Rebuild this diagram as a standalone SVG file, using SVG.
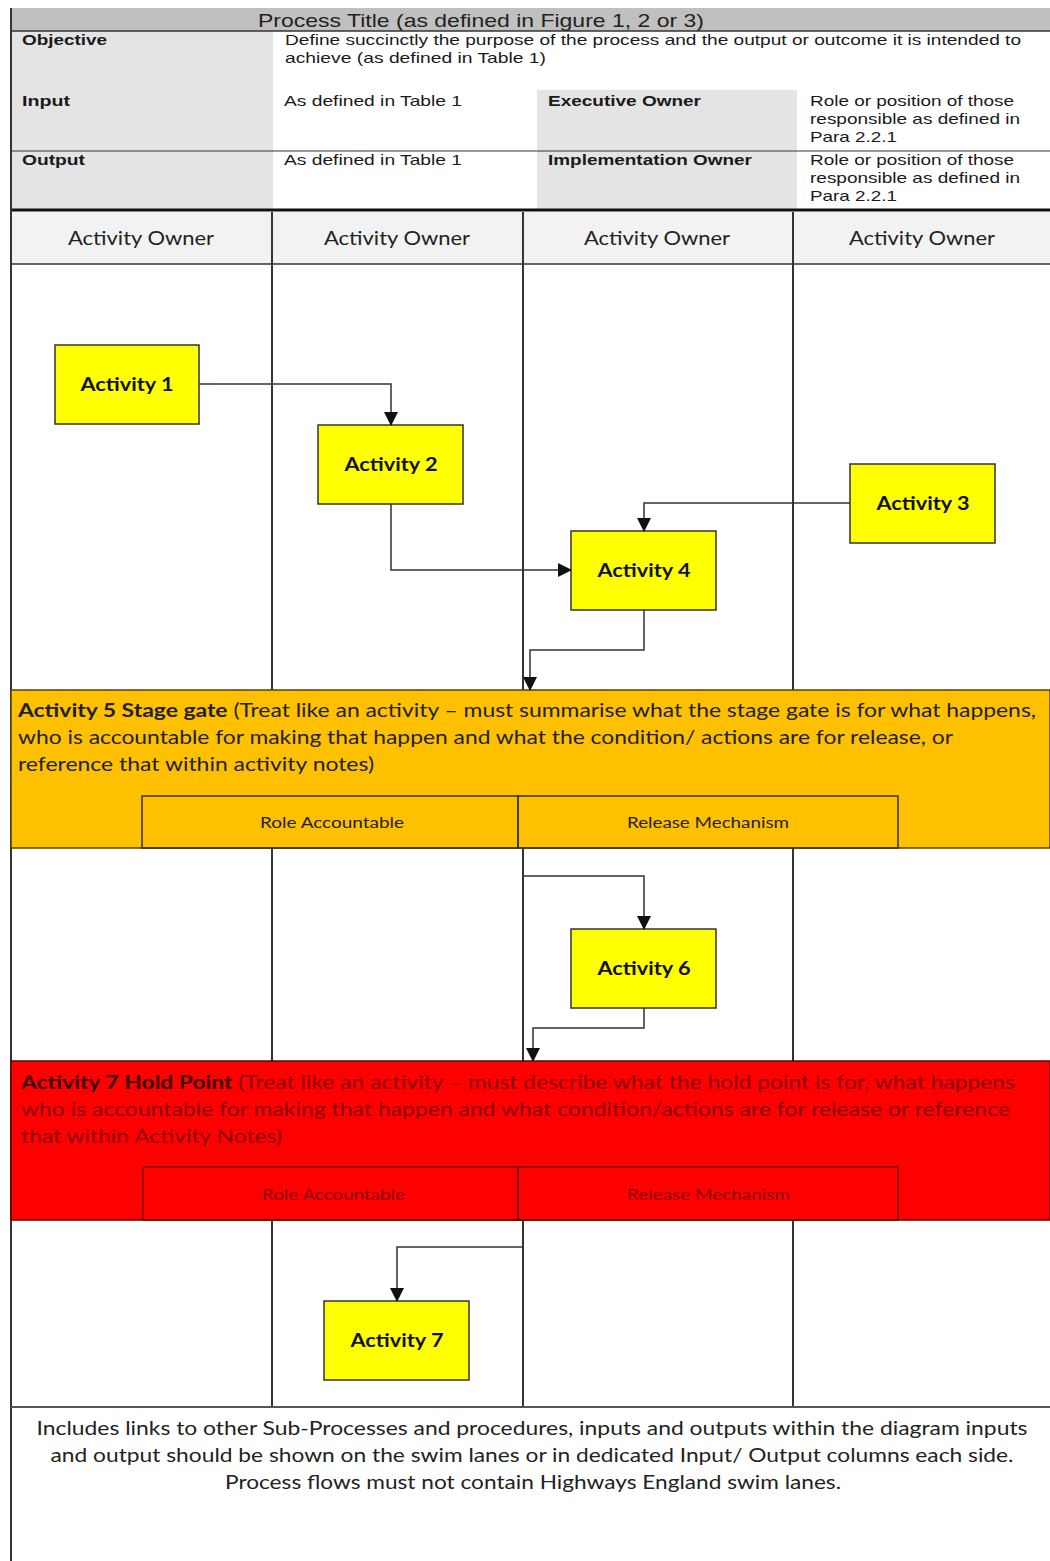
<svg xmlns="http://www.w3.org/2000/svg" width="1050" height="1561" viewBox="0 0 1050 1561">
<style>
.hdr{font-family:"Liberation Sans",Arial,sans-serif;font-size:14.5px;fill:#1a1a1a}
.hb{font-weight:bold}
.title{font-family:"Liberation Sans",Arial,sans-serif;font-size:19px;fill:#222}
.own{font-family:Lato,"Open Sans",sans-serif;font-size:20px;fill:#222}
.act{font-family:Lato,"Open Sans",sans-serif;font-size:19px;font-weight:bold;fill:#111}
.cal{font-family:Lato,"Open Sans",sans-serif;font-size:19px;fill:#222}
.sm{font-family:Lato,"Open Sans",sans-serif;font-size:15.5px;fill:#222}
.red{fill:#8a0000}
.box{fill:#ffff00;stroke:#333;stroke-width:1.5}
.lane{stroke:#333;stroke-width:2;fill:none}
.con{stroke:#333;stroke-width:1.5;fill:none}
</style>
<defs>
<marker id="arr" markerWidth="14" markerHeight="14" refX="13" refY="7" orient="auto" markerUnits="userSpaceOnUse">
<path d="M0,0 L14,7 L0,14 Z" fill="#111"/>
</marker>
</defs>
<rect x="0" y="0" width="1050" height="1561" fill="#ffffff"/>

<g id="header-table">
<rect x="11" y="8" width="1039" height="23" fill="#c0c0c0"/>
<text class="title" x="258" y="27" textLength="446" lengthAdjust="spacingAndGlyphs">Process Title (as defined in Figure 1, 2 or 3)</text>
<rect x="11" y="31" width="262" height="178" fill="#e4e4e4"/>
<rect x="537" y="90" width="260" height="119" fill="#e4e4e4"/>
<line x1="11" y1="31" x2="1050" y2="31" stroke="#333" stroke-width="1.5"/>
<line x1="11" y1="151" x2="1050" y2="151" stroke="#333" stroke-width="1.2"/>
<line x1="11" y1="210" x2="1050" y2="210" stroke="#111" stroke-width="3"/>
<text class="hdr hb" x="22" y="45" textLength="85" lengthAdjust="spacingAndGlyphs">Objective</text>
<text class="hdr" x="285" y="45" textLength="736" lengthAdjust="spacingAndGlyphs">Define succinctly the purpose of the process and the output or outcome it is intended to</text>
<text class="hdr" x="285" y="63" textLength="261" lengthAdjust="spacingAndGlyphs">achieve (as defined in Table 1)</text>
<text class="hdr hb" x="22" y="106" textLength="48" lengthAdjust="spacingAndGlyphs">Input</text>
<text class="hdr" x="284" y="106" textLength="178" lengthAdjust="spacingAndGlyphs">As defined in Table 1</text>
<text class="hdr hb" x="548" y="106" textLength="153" lengthAdjust="spacingAndGlyphs">Executive Owner</text>
<text class="hdr" x="810" y="106" textLength="204" lengthAdjust="spacingAndGlyphs">Role or position of those</text>
<text class="hdr" x="810" y="124" textLength="210" lengthAdjust="spacingAndGlyphs">responsible as defined in</text>
<text class="hdr" x="810" y="142" textLength="87" lengthAdjust="spacingAndGlyphs">Para 2.2.1</text>
<text class="hdr hb" x="22" y="165" textLength="63" lengthAdjust="spacingAndGlyphs">Output</text>
<text class="hdr" x="284" y="165" textLength="178" lengthAdjust="spacingAndGlyphs">As defined in Table 1</text>
<text class="hdr hb" x="548" y="165" textLength="204" lengthAdjust="spacingAndGlyphs">Implementation Owner</text>
<text class="hdr" x="810" y="165" textLength="204" lengthAdjust="spacingAndGlyphs">Role or position of those</text>
<text class="hdr" x="810" y="183" textLength="210" lengthAdjust="spacingAndGlyphs">responsible as defined in</text>
<text class="hdr" x="810" y="201" textLength="87" lengthAdjust="spacingAndGlyphs">Para 2.2.1</text>
</g>

<g id="lane-headers">
<rect x="11" y="212" width="1039" height="52" fill="#f2f2f2"/>
<line x1="11" y1="264" x2="1050" y2="264" stroke="#333" stroke-width="1.5"/>
<text class="own" x="141" y="245" text-anchor="middle" textLength="146" lengthAdjust="spacingAndGlyphs">Activity Owner</text>
<text class="own" x="397" y="245" text-anchor="middle" textLength="146" lengthAdjust="spacingAndGlyphs">Activity Owner</text>
<text class="own" x="657" y="245" text-anchor="middle" textLength="146" lengthAdjust="spacingAndGlyphs">Activity Owner</text>
<text class="own" x="922" y="245" text-anchor="middle" textLength="146" lengthAdjust="spacingAndGlyphs">Activity Owner</text>
</g>

<g id="lanes">
<line class="lane" x1="11" y1="8" x2="11" y2="1561"/>
<line class="lane" x1="272" y1="212" x2="272" y2="690"/>
<line class="lane" x1="523" y1="212" x2="523" y2="690"/>
<line class="lane" x1="793" y1="212" x2="793" y2="690"/>
<line class="lane" x1="272" y1="848" x2="272" y2="1061"/>
<line class="lane" x1="523" y1="848" x2="523" y2="1061"/>
<line class="lane" x1="793" y1="848" x2="793" y2="1061"/>
<line class="lane" x1="272" y1="1220" x2="272" y2="1407"/>
<line class="lane" x1="523" y1="1220" x2="523" y2="1407"/>
<line class="lane" x1="793" y1="1220" x2="793" y2="1407"/>
<line x1="11" y1="1407" x2="1050" y2="1407" stroke="#555" stroke-width="2"/>
</g>

<g id="stage-gate">
<rect x="11" y="690" width="1039" height="158" fill="#ffc000" stroke="#5a4000" stroke-width="1.5"/>
<rect x="142" y="796" width="376" height="52" fill="none" stroke="#333" stroke-width="1.5"/>
<rect x="518" y="796" width="380" height="52" fill="none" stroke="#333" stroke-width="1.5"/>
<text class="cal" x="18" y="717" textLength="1018" lengthAdjust="spacingAndGlyphs"><tspan font-weight="bold">Activity 5 Stage gate</tspan> (Treat like an activity – must summarise what the stage gate is for what happens,</text>
<text class="cal" x="18" y="744" textLength="935" lengthAdjust="spacingAndGlyphs">who is accountable for making that happen and what the condition/ actions are for release, or</text>
<text class="cal" x="18" y="771" textLength="356" lengthAdjust="spacingAndGlyphs">reference that within activity notes)</text>
<text class="sm" x="260" y="828" textLength="144" lengthAdjust="spacingAndGlyphs">Role Accountable</text>
<text class="sm" x="627" y="828" textLength="162" lengthAdjust="spacingAndGlyphs">Release Mechanism</text>
</g>

<g id="hold-point">
<rect x="11" y="1061" width="1039" height="159" fill="#ff0000" stroke="#600000" stroke-width="1.5"/>
<rect x="143" y="1167" width="375" height="53" fill="none" stroke="#700000" stroke-width="1.5"/>
<rect x="518" y="1167" width="380" height="53" fill="none" stroke="#700000" stroke-width="1.5"/>
<text class="cal red" x="21" y="1089" textLength="994" lengthAdjust="spacingAndGlyphs"><tspan font-weight="bold" fill="#3a0000">Activity 7 Hold Point</tspan> (Treat like an activity – must describe what the hold point is for, what happens</text>
<text class="cal red" x="21" y="1116" textLength="989" lengthAdjust="spacingAndGlyphs">who is accountable for making that happen and what condition/actions are for release or reference</text>
<text class="cal red" x="21" y="1143" textLength="261" lengthAdjust="spacingAndGlyphs">that within Activity Notes)</text>
<text class="sm red" x="262" y="1200" textLength="143" lengthAdjust="spacingAndGlyphs">Role Accountable</text>
<text class="sm red" x="627" y="1200" textLength="163" lengthAdjust="spacingAndGlyphs">Release Mechanism</text>
</g>

<g id="activity-1">
<rect class="box" x="55" y="345" width="144" height="79"/>
<text class="act" x="127" y="391" text-anchor="middle" textLength="93" lengthAdjust="spacingAndGlyphs">Activity 1</text>
</g>
<g id="activity-2">
<rect class="box" x="318" y="425" width="145" height="79"/>
<text class="act" x="391" y="471" text-anchor="middle" textLength="93" lengthAdjust="spacingAndGlyphs">Activity 2</text>
</g>
<g id="activity-3">
<rect class="box" x="850" y="464" width="145" height="79"/>
<text class="act" x="923" y="510" text-anchor="middle" textLength="93" lengthAdjust="spacingAndGlyphs">Activity 3</text>
</g>
<g id="activity-4">
<rect class="box" x="571" y="531" width="145" height="79"/>
<text class="act" x="644" y="577" text-anchor="middle" textLength="93" lengthAdjust="spacingAndGlyphs">Activity 4</text>
</g>
<g id="activity-6">
<rect class="box" x="571" y="929" width="145" height="79"/>
<text class="act" x="644" y="975" text-anchor="middle" textLength="93" lengthAdjust="spacingAndGlyphs">Activity 6</text>
</g>
<g id="activity-7">
<rect class="box" x="324" y="1301" width="145" height="79"/>
<text class="act" x="397" y="1347" text-anchor="middle" textLength="93" lengthAdjust="spacingAndGlyphs">Activity 7</text>
</g>

<g id="connectors">
<polyline class="con" points="199,384 391,384 391,425" marker-end="url(#arr)"/>
<polyline class="con" points="391,504 391,570 571,570" marker-end="url(#arr)"/>
<polyline class="con" points="850,503 644,503 644,531" marker-end="url(#arr)"/>
<polyline class="con" points="644,610 644,650 530,650 530,690" marker-end="url(#arr)"/>
<polyline class="con" points="524,876 644,876 644,929" marker-end="url(#arr)"/>
<polyline class="con" points="644,1008 644,1028 533,1028 533,1061" marker-end="url(#arr)"/>
<polyline class="con" points="523,1247 397,1247 397,1301" marker-end="url(#arr)"/>
</g>

<g id="notes">
<text class="cal" x="532" y="1435" text-anchor="middle" textLength="991" lengthAdjust="spacingAndGlyphs">Includes links to other Sub-Processes and procedures, inputs and outputs within the diagram inputs</text>
<text class="cal" x="532" y="1462" text-anchor="middle" textLength="963" lengthAdjust="spacingAndGlyphs">and output should be shown on the swim lanes or in dedicated Input/ Output columns each side.</text>
<text class="cal" x="533" y="1489" text-anchor="middle" textLength="616" lengthAdjust="spacingAndGlyphs">Process flows must not contain Highways England swim lanes.</text>
</g>
</svg>
